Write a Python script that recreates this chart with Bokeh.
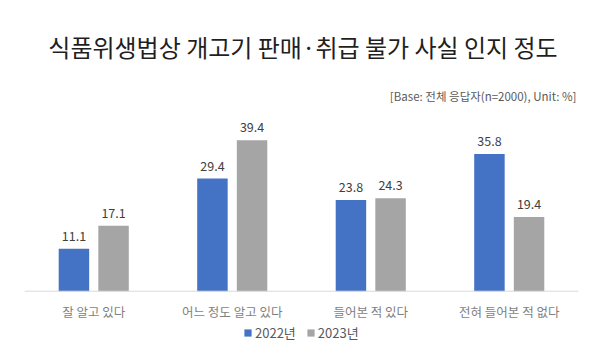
from bokeh.plotting import figure
from bokeh.models import (ColumnDataSource, FactorRange, Range1d, Label, Legend,
                          LegendItem, Span)
from bokeh.transform import dodge
from bokeh.core.properties import value
from bokeh.embed import file_html
from bokeh.resources import INLINE

title_text = "식품위생법상 개고기 판매·취급 불가 사실 인지 정도"
subtitle_text = "[Base: 전체 응답자(n=2000), Unit: %]"
categories = ["잘 알고 있다", "어느 정도 알고 있다", "들어본 적 있다", "전혀 들어본 적 없다"]
series_names = ["2022년", "2023년"]
values_2022 = [11.1, 29.4, 23.8, 35.8]
values_2023 = [17.1, 39.4, 24.3, 19.4]

FONT = "Noto Sans CJK KR"
BLUE = "#4472C4"
GRAY = "#A5A5A5"

src = ColumnDataSource(dict(
    cat=categories,
    v22=values_2022,
    v23=values_2023,
    t22=[f"{v:.1f}" for v in values_2022],
    t23=[f"{v:.1f}" for v in values_2023],
))

# frame: page y 0..350, value 0 sits at y = 290.7 (3.83 px per %)
p = figure(width=616, height=359, output_backend="svg", toolbar_location=None,
           title=None, x_range=FactorRange(*categories),
           y_range=Range1d(-15.48, 75.9),
           min_border_left=24, min_border_right=38, min_border_top=0,
           min_border_bottom=9)
p.outline_line_color = None
p.background_fill_color = "white"
p.border_fill_color = "white"
p.xgrid.visible = False
p.ygrid.visible = False
p.yaxis.visible = False

ax = p.xaxis[0]
ax.axis_line_color = None
ax.major_tick_line_color = None
ax.minor_tick_line_color = None
ax.major_tick_out = 0
ax.major_tick_in = 0
ax.major_label_standoff = -49
ax.major_label_text_font = FONT
ax.major_label_text_font_size = "12.5px"
ax.major_label_text_color = "#7F7F7F"

p.add_layout(Span(location=0, dimension="width", line_color="#D9D9D9",
                  line_width=1))

off = 0.143
w = 0.22
r22 = p.vbar(x=dodge("cat", -off, range=p.x_range), top="v22", width=w,
             source=src, color=BLUE, line_color=None)
r23 = p.vbar(x=dodge("cat", off, range=p.x_range), top="v23", width=w,
             source=src, color=GRAY, line_color=None)

for col, txt, o in (("v22", "t22", -off), ("v23", "t23", off)):
    p.text(x=dodge("cat", o, range=p.x_range), y=col, text=txt, source=src,
           text_align="center", text_baseline="bottom", y_offset=-8,
           text_font=value(FONT), text_font_size="12.5px", text_color="#404040")

p.add_layout(Label(x=278.5, y=304, x_units="screen", y_units="screen",
                   text=title_text, text_align="center", text_baseline="middle",
                   text_font=FONT, text_font_size="24px", text_color="#1F1F1F"))
p.add_layout(Label(x=552, y=255, x_units="screen", y_units="screen",
                   text=subtitle_text, text_align="right", text_baseline="middle",
                   text_font=FONT, text_font_size="11.5px", text_color="#595959"))

legend = Legend(items=[LegendItem(label=series_names[0], renderers=[r22]),
                       LegendItem(label=series_names[1], renderers=[r23])],
                orientation="horizontal", location=(219, 8),
                padding=0, margin=0, spacing=10, label_standoff=3,
                glyph_width=9, glyph_height=9,
                label_text_font=FONT, label_text_font_size="13px",
                label_text_color="#595959",
                border_line_color=None, background_fill_alpha=0)
p.add_layout(legend, "center")

open("out.html", "w").write(file_html(p, INLINE))
